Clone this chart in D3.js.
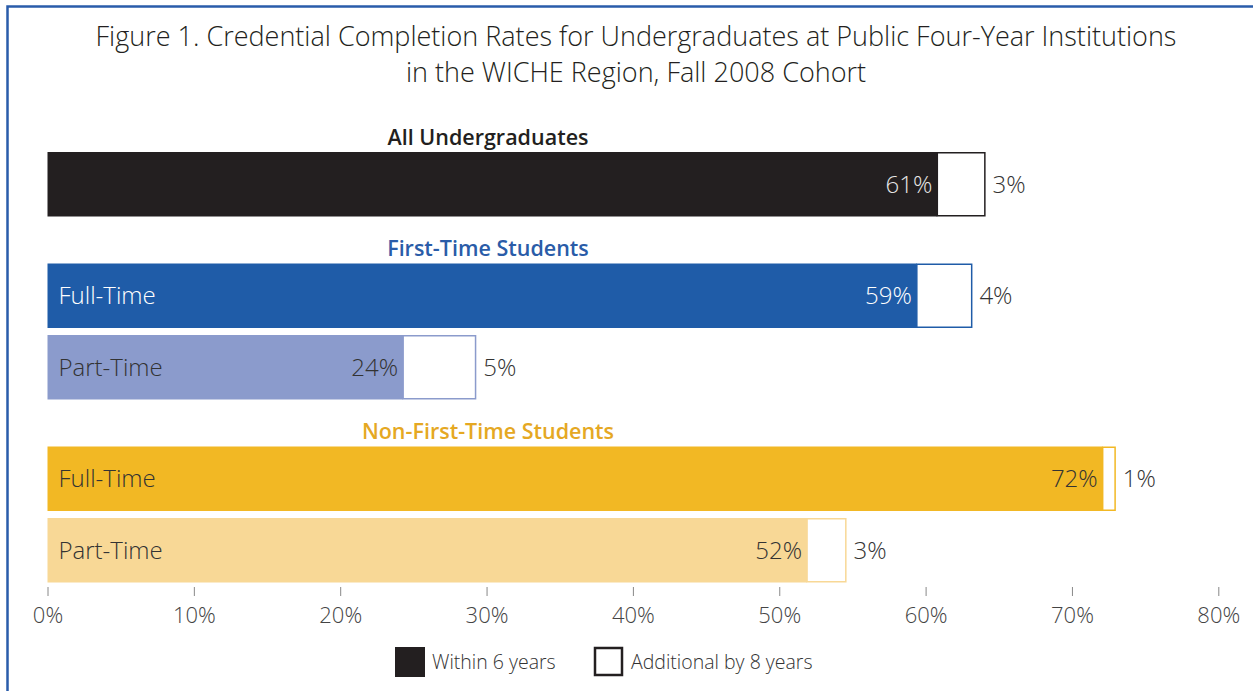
<!DOCTYPE html>
<html><head><meta charset="utf-8">
<script src="https://cdn.jsdelivr.net/npm/d3@7"></script>
<style>body{margin:0;background:#fff}svg{display:block}text{font-family:"Open Sans","Noto Sans",sans-serif;font-weight:300}</style>
</head><body><svg id="c" width="1253" height="691"></svg>
<script>
const titleLines = ["Figure 1. Credential Completion Rates for Undergraduates at Public Four-Year Institutions", "in the WICHE Region, Fall 2008 Cohort"];
const groups = ["All Undergraduates", "First-Time Students", "Non-First-Time Students"];
const groupColors = ["#231f20", "#2a5ca8", "#e5a823"];
const rows = ["All", "FT-Full", "FT-Part", "NFT-Full", "NFT-Part"];
const rowLabels = ["", "Full-Time", "Part-Time", "Full-Time", "Part-Time"];
const rowGroup = [0, 1, 1, 2, 2];
const within6 = [60.8, 59.4, 24.3, 72.1, 51.9];
const additional8 = [3.3, 3.8, 5.0, 0.9, 2.7];
const within6Labels = ["61%", "59%", "24%", "72%", "52%"];
const additionalLabels = ["3%", "4%", "5%", "1%", "3%"];
const rowColors = ["#231f20", "#1f5ca8", "#8b9bcc", "#f2b824", "#f8d896"];
const rowTextColors = ["#e6e6e6", "#ffffff", "#333333", "#333333", "#333333"];
const ticks = [0, 10, 20, 30, 40, 50, 60, 70, 80];
const legendLabels = ["Within 6 years", "Additional by 8 years"];

const svg = d3.select("#c");
// frame
svg.append("rect").attr("x", 7.5).attr("y", 6.5).attr("width", 1300).attr("height", 800)
  .attr("fill", "none").attr("stroke", "#2a5caa").attr("stroke-width", 2.5);

svg.append("g").selectAll("text").data(titleLines).join("text")
  .attr("x", 636).attr("y", (d, i) => 46 + i * 35.5).attr("text-anchor", "middle")
  .attr("font-size", 27).attr("fill", "#231f20").text(d => d);

const x = d3.scaleLinear().domain([0, 80]).range([47.5, 1218.3]);
const groupGap = 40;
const y0 = d3.scaleBand().domain(rows).range([152, 152 + 5 * 71.5 - 7]).paddingInner(7 / 71.5);
const y = r => y0(r) + rowGroup[rows.indexOf(r)] * groupGap;
const bh = y0.bandwidth();

// group headers
const firstRowOf = groups.map((g, gi) => rows[rowGroup.indexOf(gi)]);
svg.append("g").selectAll("text").data(groups).join("text")
  .attr("x", 488).attr("y", (d, i) => y(firstRowOf[i]) - 15).attr("dy", "0.35em")
  .attr("text-anchor", "middle").attr("font-size", 21.5).style("font-weight", 600)
  .attr("fill", (d, i) => groupColors[i]).text(d => d);

const data = rows.map((r, i) => ({ r, i, a: within6[i], b: additional8[i] }));
const g = svg.append("g");
// additional (white, outlined)
g.selectAll("rect.add").data(data).join("rect").attr("class", "add")
  .attr("x", d => x(d.a)).attr("y", d => y(d.r) + 0.75)
  .attr("width", d => x(d.a + d.b) - x(d.a) - 0.75).attr("height", bh - 1.5)
  .attr("fill", "#fff").attr("stroke", d => rowColors[d.i]).attr("stroke-width", 1.5);
g.selectAll("rect.main").data(data).join("rect").attr("class", "main")
  .attr("x", x(0)).attr("y", d => y(d.r)).attr("width", d => x(d.a) - x(0)).attr("height", bh)
  .attr("fill", d => rowColors[d.i]);
// row labels
g.selectAll("text.rl").data(data.filter(d => rowLabels[d.i])).join("text").attr("class", "rl")
  .attr("x", x(0) + 11).attr("y", d => y(d.r) + bh / 2).attr("dy", "0.35em")
  .attr("font-size", 24).attr("fill", d => rowTextColors[d.i]).text(d => rowLabels[d.i]);
// inner values
g.selectAll("text.v").data(data).join("text").attr("class", "v")
  .attr("x", d => x(d.a) - 5).attr("y", d => y(d.r) + bh / 2).attr("dy", "0.35em")
  .attr("text-anchor", "end").attr("font-size", 24).attr("fill", d => rowTextColors[d.i])
  .text(d => within6Labels[d.i]);
g.selectAll("text.o").data(data).join("text").attr("class", "o")
  .attr("x", d => x(d.a + d.b) + 7).attr("y", d => y(d.r) + bh / 2).attr("dy", "0.35em")
  .attr("font-size", 24).attr("fill", "#333").text(d => additionalLabels[d.i]);

// axis
const axis = svg.append("g").attr("transform", "translate(0,587)")
  .call(d3.axisBottom(x).tickValues(ticks).tickSize(9).tickSizeOuter(0).tickFormat(d => d + "%"));
axis.select(".domain").remove();
axis.selectAll(".tick line").attr("stroke", "#888").attr("stroke-width", 1);
axis.selectAll(".tick text").attr("font-size", 22).attr("fill", "#444").attr("y", 20)
  .attr("font-family", "'Open Sans','Noto Sans',sans-serif").style("font-weight", 300);

// legend
const leg = svg.append("g");
const lx = [395, 594];
leg.selectAll("rect").data(legendLabels).join("rect")
  .attr("x", (d, i) => lx[i] + (i ? 1 : 0)).attr("y", (d, i) => 647 + (i ? 1 : 0))
  .attr("width", (d, i) => i ? 27 : 30).attr("height", (d, i) => i ? 27 : 30)
  .attr("fill", (d, i) => i ? "#fff" : "#231f20").attr("stroke", "#231f20").attr("stroke-width", (d, i) => i ? 2.5 : 0);
leg.selectAll("text").data(legendLabels).join("text")
  .attr("x", (d, i) => lx[i] + 37).attr("y", 662).attr("dy", "0.35em")
  .attr("font-size", 19.5).attr("fill", "#333").text(d => d);
</script></body></html>
